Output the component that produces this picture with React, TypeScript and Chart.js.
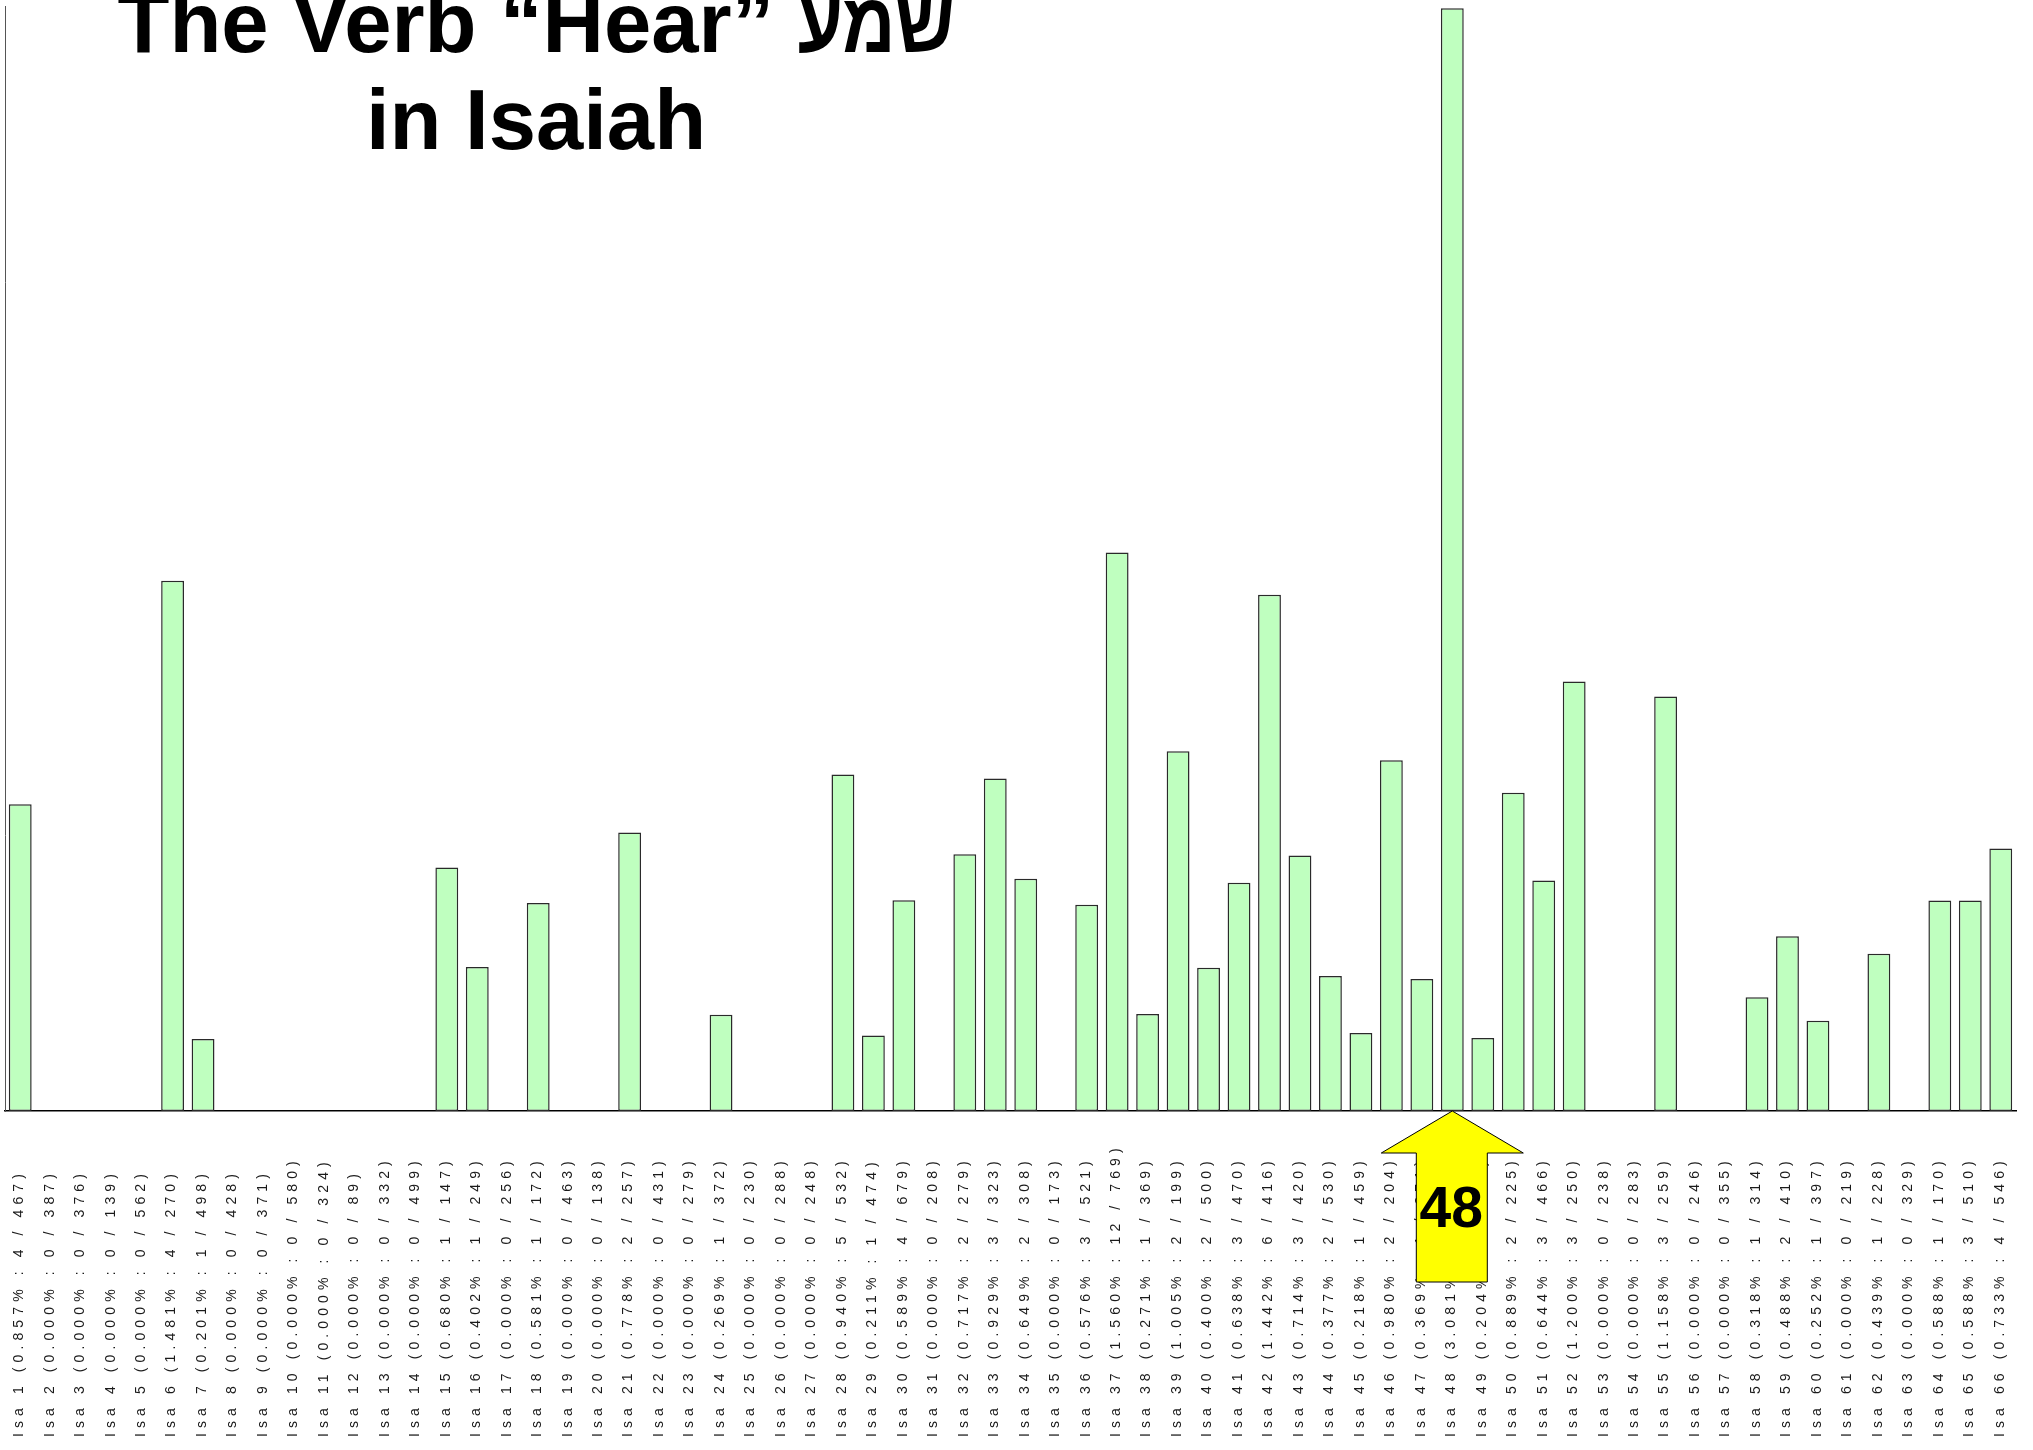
import React, { useEffect, useRef } from "react";
import { Chart, registerables } from "chart.js";

Chart.register(...registerables);

const chapters = [
  "Isa 1", "Isa 2", "Isa 3", "Isa 4", "Isa 5", "Isa 6", "Isa 7", "Isa 8", "Isa 9", "Isa 10",
  "Isa 11", "Isa 12", "Isa 13", "Isa 14", "Isa 15", "Isa 16", "Isa 17", "Isa 18", "Isa 19", "Isa 20",
  "Isa 21", "Isa 22", "Isa 23", "Isa 24", "Isa 25", "Isa 26", "Isa 27", "Isa 28", "Isa 29", "Isa 30",
  "Isa 31", "Isa 32", "Isa 33", "Isa 34", "Isa 35", "Isa 36", "Isa 37", "Isa 38", "Isa 39", "Isa 40",
  "Isa 41", "Isa 42", "Isa 43", "Isa 44", "Isa 45", "Isa 46", "Isa 47", "Isa 48", "Isa 49", "Isa 50",
  "Isa 51", "Isa 52", "Isa 53", "Isa 54", "Isa 55", "Isa 56", "Isa 57", "Isa 58", "Isa 59", "Isa 60",
  "Isa 61", "Isa 62", "Isa 63", "Isa 64", "Isa 65", "Isa 66",
];

const percents = [
  0.857, 0, 0, 0, 0, 1.481, 0.201, 0, 0, 0, 0, 0, 0, 0,
  0.68, 0.402, 0, 0.581, 0, 0,
  0.778, 0, 0, 0.269, 0, 0, 0,
  0.94, 0.211, 0.589, 0, 0.717, 0.929, 0.649, 0, 0.576,
  1.56, 0.271, 1.005, 0.4, 0.638, 1.442, 0.714, 0.377, 0.218, 0.98,
  0.369, 3.081, 0.204, 0.889, 0.644, 1.2, 0, 0, 1.158, 0,
  0, 0.318, 0.488, 0.252, 0, 0.439, 0, 0.588, 0.588, 0.733,
];

const counts = [
  4, 0, 0, 0, 0, 4, 1, 0, 0, 0, 0, 0, 0, 0,
  1, 1, 0, 1, 0, 0,
  2, 0, 0, 1, 0, 0, 0,
  5, 1, 4, 0, 2, 3, 2, 0, 3,
  12, 1, 2, 2, 3, 6, 3, 2, 1, 2,
  1, 11, 1, 2, 3, 3, 0, 0, 3, 0,
  0, 1, 2, 1, 0, 1, 0, 1, 3, 4,
];

const totals = [
  467, 387, 376, 139, 562, 270, 498, 428, 371, 580, 324, 89, 332, 499,
  147, 249, 256, 172, 463, 138,
  257, 431, 279, 372, 230, 288, 248,
  532, 474, 679, 208, 279, 323, 308, 173, 521,
  769, 369, 199, 500, 470, 416, 420, 530, 459, 204,
  271, 357, 490, 225, 466, 250, 238, 283, 259, 246,
  355, 314, 410, 397, 219, 228, 329, 170, 510, 546,
];

const titleLatin = "The Verb \u201CHear\u201D ";
const titleHebrew = "\u05E9\u05DE\u05E2";
const titleLine2 = "in Isaiah";
const highlightIndex = 47;
const highlightText = "48";

function tickLabel(i: number): string {
  return `${chapters[i]} (${percents[i].toFixed(3)}% : ${counts[i]} / ${totals[i]})`;
}

const overlayPlugin = {
  id: "overlay",
  afterDraw(chart: any) {
    const ctx: CanvasRenderingContext2D = chart.ctx;
    const xs = chart.scales.x;
    const ys = chart.scales.y;

    // Rotated category labels, bottom aligned
    ctx.save();
    ctx.fillStyle = "#1a1a1a";
    ctx.font = "14px 'Liberation Sans', Arial, sans-serif";
    (ctx as any).letterSpacing = "5.1px";
    ctx.textAlign = "left";
    ctx.textBaseline = "middle";
    const startY = xs.bottom - 13;
    for (let i = 0; i < chapters.length; i++) {
      const px = xs.getPixelForValue(i);
      ctx.save();
      ctx.translate(px - 1, startY);
      ctx.rotate(-Math.PI / 2);
      ctx.fillText(tickLabel(i), 0, 0);
      ctx.restore();
    }
    ctx.restore();

    // Yellow arrow pointing to highlighted bar
    const tx = xs.getPixelForValue(highlightIndex);
    const ty = ys.getPixelForValue(0);
    ctx.save();
    ctx.beginPath();
    ctx.moveTo(tx, ty);
    ctx.lineTo(tx + 71, ty + 42);
    ctx.lineTo(tx + 35, ty + 42);
    ctx.lineTo(tx + 35, ty + 171);
    ctx.lineTo(tx - 36, ty + 171);
    ctx.lineTo(tx - 36, ty + 42);
    ctx.lineTo(tx - 71, ty + 42);
    ctx.closePath();
    ctx.fillStyle = "#ffff00";
    ctx.fill();
    ctx.strokeStyle = "#000";
    ctx.lineWidth = 1;
    ctx.stroke();
    ctx.fillStyle = "#000";
    ctx.font = "bold 57px 'Liberation Sans', Arial, sans-serif";
    ctx.textAlign = "center";
    ctx.textBaseline = "alphabetic";
    ctx.fillText(highlightText, tx - 1, ty + 116);
    ctx.restore();

    // Title (Latin part + Hebrew word, fitted to reference width)
    ctx.save();
    ctx.fillStyle = "#000";
    ctx.textBaseline = "alphabetic";
    ctx.font = "bold 85px 'Liberation Sans', Arial, sans-serif";
    const latinW = ctx.measureText(titleLatin).width;
    const hebW = ctx.measureText(titleHebrew).width;
    const targetW = 837;
    const hebTarget = Math.max(50, targetW - latinW);
    const hebScale = Math.min(1, hebTarget / hebW);
    const startX = 536 - (latinW + hebW * hebScale) / 2;
    ctx.textAlign = "left";
    ctx.fillText(titleLatin, startX, 52);
    ctx.save();
    ctx.translate(startX + latinW, 52);
    ctx.scale(hebScale, 1);
    ctx.direction = "rtl";
    ctx.textAlign = "left";
    ctx.fillText(titleHebrew, 0, 0);
    ctx.restore();
    ctx.textAlign = "center";
    ctx.direction = "ltr";
    ctx.fillText(titleLine2, 536, 149);
    ctx.restore();
  },
};

export default function App() {
  const canvasRef = useRef<HTMLCanvasElement | null>(null);

  useEffect(() => {
    if (!canvasRef.current) return;
    const chart = new Chart(canvasRef.current, {
      type: "bar",
      data: {
        labels: chapters,
        datasets: [
          {
            data: percents,
            backgroundColor: "#bfffbf",
            borderColor: "#2a2a2a",
            borderWidth: 1.5,
            borderSkipped: false,
            barPercentage: 0.75,
            categoryPercentage: 1.0,
          },
        ],
      },
      options: {
        responsive: false,
        animation: false,
        devicePixelRatio: 1,
        layout: { padding: { left: 0, right: 17, top: 6, bottom: 0 } },
        plugins: {
          legend: { display: false },
          tooltip: { enabled: false },
          title: { display: false },
        },
        scales: {
          x: {
            ticks: { display: false },
            grid: { display: false },
            border: { display: true, color: "#000", width: 1.5 },
            afterFit: (scale: any) => {
              scale.height = 339;
            },
          },
          y: {
            min: 0,
            max: 3.087,
            ticks: { display: false },
            grid: { display: false },
            border: { display: true, color: "#555", width: 1 },
            afterFit: (scale: any) => {
              scale.width = 5;
            },
          },
        },
      },
      plugins: [overlayPlugin],
    });
    return () => chart.destroy();
  }, []);

  return (
    <div style={{ position: "fixed", left: 0, top: 0, width: 2033, height: 1450, background: "#fff" }}>
      <canvas ref={canvasRef} width={2033} height={1450} style={{ display: "block" }} />
    </div>
  );
}
